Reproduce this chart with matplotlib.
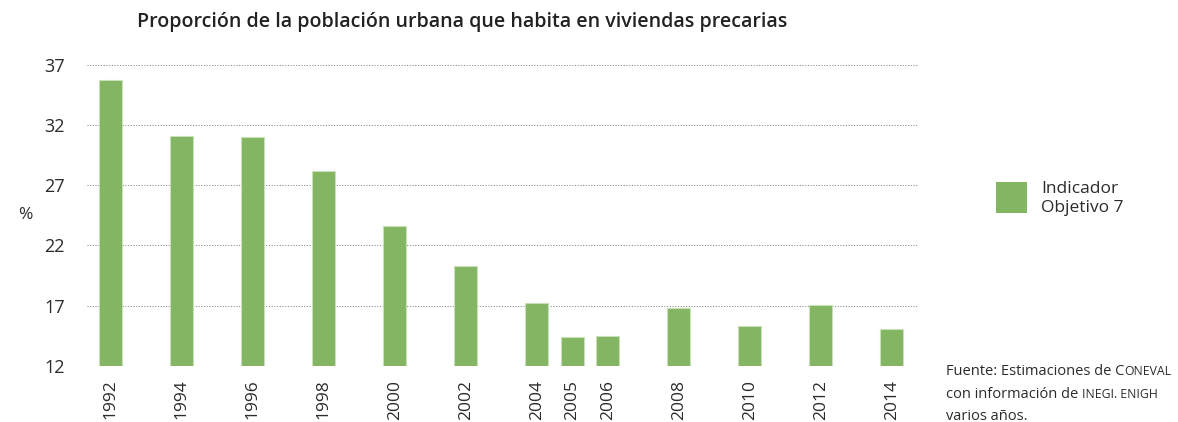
import matplotlib
matplotlib.use("Agg")
import matplotlib.pyplot as plt
from matplotlib.patches import Rectangle

years = [1992, 1994, 1996, 1998, 2000, 2002, 2004, 2005, 2006, 2008, 2010, 2012, 2014]
values = [35.75, 31.1, 31.05, 28.15, 23.6, 20.25, 17.25, 14.4, 14.5, 16.8, 15.3, 17.05, 15.05]
yticks = [12, 17, 22, 27, 32, 37]
title = "Proporción de la población urbana que habita en viviendas precarias"
legend_label = "Indicador\nObjetivo 7"

GREEN = "#84b562"
TXT = "#2b2b2b"
FONT = "Open Sans"

plt.rcParams['font.family'] = [FONT, 'DejaVu Sans']

fig = plt.figure(figsize=(11.78, 4.22), dpi=100)
ax = fig.add_axes([0.0739, 0.1334, 0.7051, 0.7126])

ax.bar(years, [v - 12 for v in values], bottom=12, width=0.65,
       color=GREEN, edgecolor="#c9e0b8", linewidth=0.8, zorder=3)

ax.set_xlim(1991.33, 2014.73)
ax.set_ylim(12, 37)
ax.set_yticks(yticks)
ax.set_yticklabels([str(t) for t in yticks], fontsize=13, color=TXT)
ax.set_xticks(years)
ax.set_xticklabels([str(y) for y in years], rotation=90, fontsize=12.5, color=TXT)
ax.tick_params(axis='both', length=0)
ax.tick_params(axis='y', pad=16)
ax.tick_params(axis='x', pad=10)
for s in ax.spines.values():
    s.set_visible(False)
ax.yaxis.grid(True, linestyle=(0, (1, 1.6)), color="#888888", linewidth=0.75, zorder=0)
ax.set_axisbelow(True)

fig.text(0.0153, 1 - 215 / 422, "%", fontsize=12.5, color=TXT, va="center", ha="left")

fig.text(0.392, 1 - 22 / 422, title, fontsize=14.1, fontweight="semibold",
         color="#222222", ha="center", va="center")

# legend
fig.patches.append(Rectangle((995.7 / 1178, 1 - 212.7 / 422), 31 / 1178, 31 / 422,
                             transform=fig.transFigure, facecolor=GREEN, edgecolor="none"))
fig.text(1041 / 1178, 1 - 198 / 422, legend_label, fontsize=12.5, color=TXT,
         va="center", ha="left", linespacing=1.25)

# source with small caps
renderer = fig.canvas.get_renderer()
def line(parts, x, y):
    for txt, size in parts:
        t = fig.text(x, y, txt, fontsize=size, color=TXT, va="baseline", ha="left")
        bb = t.get_window_extent(renderer=renderer)
        x = (bb.x1) / 1178
    return

FS = 10.5
SC = 8.8
line([("Fuente: Estimaciones de C", FS), ("ONEVAL", SC)], 946 / 1178, 1 - 375 / 422)
line([("con información de ", FS), ("INEGI. ENIGH", SC)], 946 / 1178, 1 - 398 / 422)
line([("varios años.", FS)], 946 / 1178, 1 - 420 / 422)

fig.savefig("out.png", dpi=100)
